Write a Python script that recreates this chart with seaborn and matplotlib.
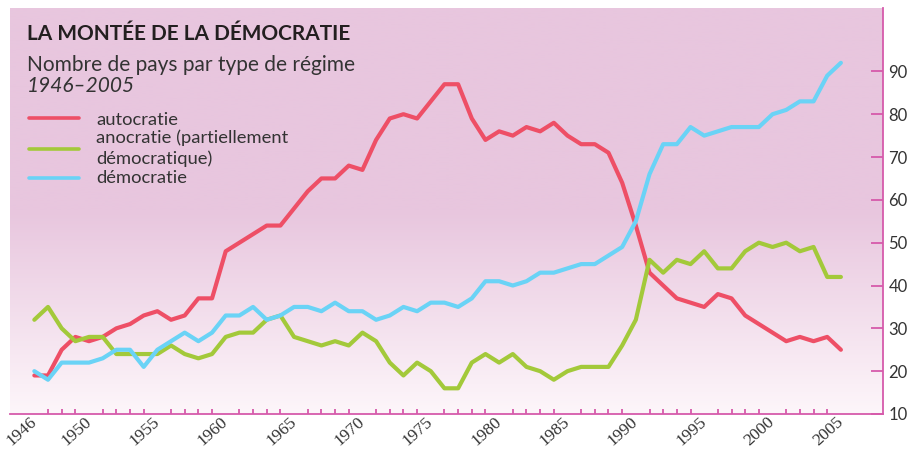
import numpy as np
import pandas as pd
import matplotlib
matplotlib.use("Agg")
import matplotlib.pyplot as plt
from matplotlib.lines import Line2D
from matplotlib.colors import LinearSegmentedColormap
from matplotlib.transforms import ScaledTranslation
import seaborn as sns

# Nombre de pays par type de régime, 1946-2005
years = list(range(1946, 2006))

autocratie = [19, 19, 25, 28, 27, 28, 30, 31, 33, 34,
              32, 33, 37, 37, 48, 50, 52, 54, 54, 58,
              62, 65, 65, 68, 67, 74, 79, 80, 79, 83,
              87, 87, 79, 74, 76, 75, 77, 76, 78, 75,
              73, 73, 71, 64, 54, 43, 40, 37, 36, 35,
              38, 37, 33, 31, 29, 27, 28, 27, 28, 25]

anocratie = [32, 35, 30, 27, 28, 28, 24, 24, 24, 24,
             26, 24, 23, 24, 28, 29, 29, 32, 33, 28,
             27, 26, 27, 26, 29, 27, 22, 19, 22, 20,
             16, 16, 22, 24, 22, 24, 21, 20, 18, 20,
             21, 21, 21, 26, 32, 46, 43, 46, 45, 48,
             44, 44, 48, 50, 49, 50, 48, 49, 42, 42]

democratie = [20, 18, 22, 22, 22, 23, 25, 25, 21, 25,
              27, 29, 27, 29, 33, 33, 35, 32, 33, 35,
              35, 34, 36, 34, 34, 32, 33, 35, 34, 36,
              36, 35, 37, 41, 41, 40, 41, 43, 43, 44,
              45, 45, 47, 49, 55, 66, 73, 73, 77, 75,
              76, 77, 77, 77, 80, 81, 83, 83, 89, 92]

regimes = ["autocratie", "anocratie (partiellement\ndémocratique)", "démocratie"]
colors = ["#EE4F66", "#A3C93A", "#6AD3F6"]

major_years = [1946, 1950, 1955, 1960, 1965, 1970, 1975, 1980, 1985, 1990, 1995, 2000, 2005]
y_ticks = [10, 20, 30, 40, 50, 60, 70, 80, 90]

df = pd.concat([
    pd.DataFrame({"année": years, "pays": vals, "régime": name})
    for name, vals in zip(regimes, [autocratie, anocratie, democratie])
], ignore_index=True)

sns.set_theme(style="white")
plt.rcParams["font.family"] = ["Lato", "DejaVu Sans"]

W, H = 909, 449
fig = plt.figure(figsize=(W / 100, H / 100), dpi=100)
fig.patch.set_facecolor("white")
ax = fig.add_axes([10 / W, 1 - 414 / H, 873 / W, 406 / H])

# pink background fading to white near the bottom
top_c = np.array([232, 198, 222]) / 255
bot_c = np.array([253, 246, 250]) / 255
cmap = LinearSegmentedColormap.from_list("fond", [(0.0, bot_c), (0.5, top_c), (1.0, top_c)])
grad = np.linspace(0, 1, 256).reshape(-1, 1)
ax.imshow(grad, cmap=cmap, origin="lower", aspect="auto", extent=[0, 1, 0, 1],
          transform=ax.transAxes, zorder=0)

sns.lineplot(data=df, x="année", y="pays", hue="régime", hue_order=regimes,
             palette=colors, linewidth=3.0, legend=False, ax=ax, zorder=3)

ax.set_xlim(1944.22, 2008.08)
ax.set_ylim(10, 104.8)
ax.set_xlabel("")
ax.set_ylabel("")
ax.grid(False)

spine_c = "#D65AAB"
text_c = "#333333"
for side in ["top", "left"]:
    ax.spines[side].set_visible(False)
for side in ["bottom", "right"]:
    ax.spines[side].set_visible(True)
    ax.spines[side].set_color(spine_c)
    ax.spines[side].set_linewidth(1.3)

ax.yaxis.tick_right()
ax.set_yticks(y_ticks)
ax.set_yticklabels([str(v) for v in y_ticks], fontsize=12, color=text_c)
ax.tick_params(axis="y", which="major", direction="in", length=9, width=1.3,
               color=spine_c, pad=4, left=False, right=True)

ax.set_xticks(major_years)
ax.set_xticks(years, minor=True)
ax.set_xticklabels([str(y) for y in major_years], rotation=42, ha="right", va="center",
                   rotation_mode="anchor", fontsize=12.5, color=text_c,
                   family="Liberation Serif")
shift = ScaledTranslation(6 / 100, 0, fig.dpi_scale_trans)
for lab in ax.get_xticklabels():
    lab.set_transform(lab.get_transform() + shift)
ax.tick_params(axis="x", which="major", direction="in", length=6.5, width=1.3,
               color=spine_c, pad=4)
ax.tick_params(axis="x", which="minor", direction="in", length=3.5, width=1.3,
               color=spine_c, bottom=True)

# titles
def fy(y):
    return 1 - y / H

fig.text(27 / W, fy(40), "LA MONTÉE DE LA DÉMOCRATIE", fontsize=15, fontweight="bold",
         color="#231F20", va="baseline")
fig.text(27 / W, fy(71), "Nombre de pays par type de régime", fontsize=15,
         color=text_c, va="baseline")
fig.text(27 / W, fy(92), "1946–2005", fontsize=15, style="italic",
         color=text_c, va="baseline")

# legend
legend_rows = [(125, "autocratie"),
               (142.7, "anocratie (partiellement"),
               (164, "démocratique)"),
               (182.7, "démocratie")]
line_rows = [118, 149, 178]
for yl, c in zip(line_rows, colors):
    fig.add_artist(Line2D([29 / W, 79 / W], [fy(yl), fy(yl)], color=c, linewidth=2.6,
                          transform=fig.transFigure))
for yb, txt in legend_rows:
    fig.text(96 / W, fy(yb), txt, fontsize=13.2, color=text_c, va="baseline")

fig.savefig("out.png", dpi=100, facecolor="white")
